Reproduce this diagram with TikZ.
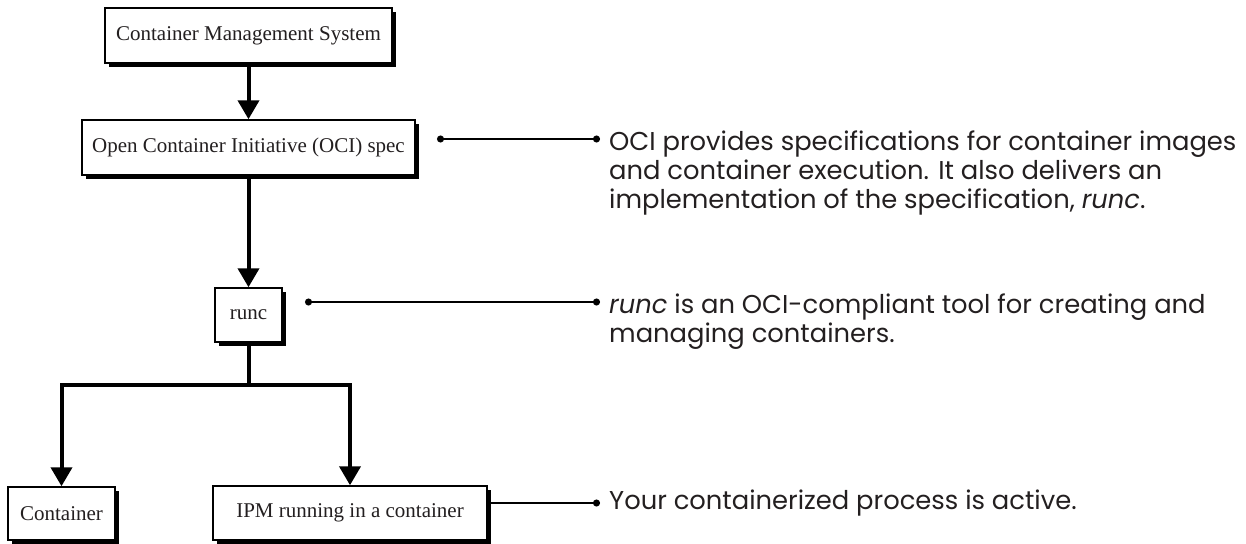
\documentclass[tikz,border=0pt]{standalone}
\usepackage{fontspec}
\usepackage{tikz}
\usetikzlibrary{arrows.meta,shadows}
\newfontfamily\notefont{Poppins}
\newfontfamily\boxfont{Liberation Serif}
\definecolor{ink}{RGB}{35,31,32}

\begin{document}
\begin{tikzpicture}[x=1pt,y=-1pt,
	box/.style={draw, line width=1.5pt, fill=white, inner xsep=0pt, minimum height=55pt,
		general shadow={fill=black, shadow xshift=4pt, shadow yshift=-4pt},
		text=ink, font=\boxfont\fontsize{21}{24}\selectfont},
	flow/.style={line width=4pt, -{Triangle[length=19pt,width=21pt]}},
	leader/.style={line width=1.5pt, {Circle[length=7pt]}-{Circle[length=7pt]}},
	tail/.style={line width=1.5pt, -{Circle[length=7pt]}},
	note/.style={inner xsep=9pt, inner ysep=0pt, align=left, text=ink,
		font=\notefont\fontsize{25.8}{28.7}\selectfont}]
		\useasboundingbox (0,0) rectangle (1246,543);
		\begin{scope}                           % boxes and arrows
			\node[box, minimum width=287pt] (cms) at (248.5,35.5) {Container Management System};
			\node[box, minimum width=333pt] (oci) at (248.5,147.5) {Open Container Initiative (OCI) spec};
			\node[box, minimum width=67pt, minimum height=54pt] (runc) at (248.5,315) {runc};
			\node[box, minimum width=107pt, minimum height=53pt] (cont) at (61.5,513.5) {Container};
			\node[box, minimum width=274pt, minimum height=54pt] (ipm) at (350,513) {IPM running in a container};
			\coordinate (split) at (248.5,385);
			\draw[flow] (cms) -- (oci);
			\draw[flow] (oci) -- (runc);
			\draw[line width=4pt] (runc) -- (split);
			\draw[flow] (split) -| (cont);
			\draw[flow] (split) -| (ipm);
		\end{scope}
		\begin{scope}                           % notes
			\node[note, anchor=north west] (ocitxt) at (600,131) {OCI provides specifications for container images\\
				and container execution. It also delivers an\\
				implementation of the specification, \textit{runc}.};
			\node[note, anchor=north west] (runctxt) at (600,294) {\textit{runc} is an OCI-compliant tool for creating and\\
				managing containers.};
			\node[note, anchor=west] (ipmtxt) at (600,503) {Your containerized process is active.};
			\coordinate (ocidot) at (437,139);
			\coordinate (runcdot) at (305,302);
			\draw[leader] (ocidot) -- (ocidot -| ocitxt.west);
			\draw[leader] (runcdot) -- (runcdot -| runctxt.west);
			\draw[tail] (ipm.east |- ipmtxt.west) -- (ipmtxt.west);
		\end{scope}
\end{tikzpicture}
\end{document}
